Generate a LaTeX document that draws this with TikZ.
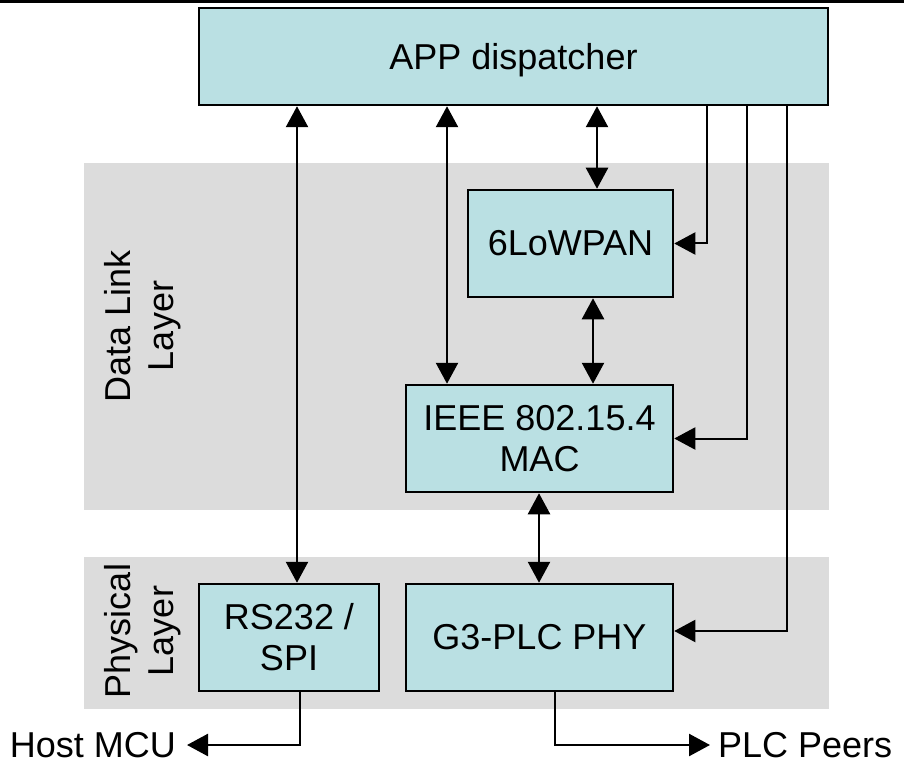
\documentclass[tikz,border=0pt]{standalone}
\usepackage{fontspec}
\setmainfont{Liberation Sans}
\usetikzlibrary{arrows.meta}
\definecolor{boxfill}{RGB}{186,224,227}
\definecolor{layergray}{RGB}{220,220,220}
\begin{document}
\begin{tikzpicture}[x=1pt,y=-1pt,
  blk/.style={draw=black, line width=2.5pt, fill=boxfill, align=center, inner sep=0pt,
              font=\fontsize{36}{41}\selectfont},
  zone/.style={fill=layergray, inner sep=0pt, anchor=north west},
  link/.style={line width=2.5pt, {Triangle[length=21pt,width=22pt]}-{Triangle[length=21pt,width=22pt]}},
  feed/.style={line width=2pt, -{Triangle[length=21pt,width=22pt]}},
  outlink/.style={line width=2.5pt, -{Triangle[length=21pt,width=22pt]}},
  lbl/.style={font=\fontsize{36}{43}\selectfont, align=center, inner sep=0pt}]
\useasboundingbox (0,0) rectangle (904,767);
% top rule
\fill[black] (0,0) rectangle (904,3);
% layer zones
\node[zone, minimum width=745pt, minimum height=347pt] (dlz) at (84,163) {};
\node[zone, minimum width=745pt, minimum height=152pt] (phz) at (84,557) {};
\node[lbl, rotate=90] (dltxt) at (143,326) {Data Link\\Layer};
\node[lbl, rotate=90] (phtxt) at (143,631) {Physical\\Layer};
% blocks
\node[blk, minimum width=629pt, minimum height=97pt, text height=26pt, text depth=0pt] (app) at (513.5,56.5) {APP dispatcher};
\node[blk, minimum width=205pt, minimum height=107pt] (lowpan) at (570.5,243.5) {6LoWPAN};
\node[blk, minimum width=267pt, minimum height=107pt] (mac) at (539.5,438.5) {IEEE 802.15.4\\MAC};
\node[blk, minimum width=180pt, minimum height=107pt] (rs) at (289,637.5) {RS232 /\\SPI};
\node[blk, minimum width=267pt, minimum height=107pt] (phy) at (539.5,637.5) {G3-PLC PHY};
% external labels
\node[lbl, anchor=east, inner xsep=11pt] (host) at (187,745) {Host MCU};
\node[lbl, anchor=west, inner xsep=8pt] (peers) at (710,745) {PLC Peers};
% reference columns / rows
\coordinate (c297) at (297,0);
\coordinate (c300) at (300,0);
\coordinate (c447) at (447,0);
\coordinate (c539) at (539,0);
\coordinate (c555) at (555,0);
\coordinate (c593) at (593,0);
\coordinate (c597) at (597,0);
\coordinate (c707) at (707,0);
\coordinate (c747) at (747,0);
\coordinate (c787) at (787,0);
\coordinate (r631) at (0,631);
% connectors
\draw[link] (app.south -| c297) -- (rs.north -| c297);
\draw[link] (app.south -| c447) -- (mac.north -| c447);
\draw[link] (app.south -| c597) -- (lowpan.north -| c597);
\draw[link] (lowpan.south -| c593) -- (mac.north -| c593);
\draw[link] (mac.south -| c539) -- (phy.north -| c539);
\draw[feed] (app.south -| c707) |- (lowpan.east);
\draw[feed] (app.south -| c747) |- (mac.east);
\draw[feed] (app.south -| c787) |- (phy.east |- r631);
\draw[outlink] (rs.south -| c300) |- (host.east);
\draw[outlink] (phy.south -| c555) |- (peers.west);
\end{tikzpicture}
\end{document}
